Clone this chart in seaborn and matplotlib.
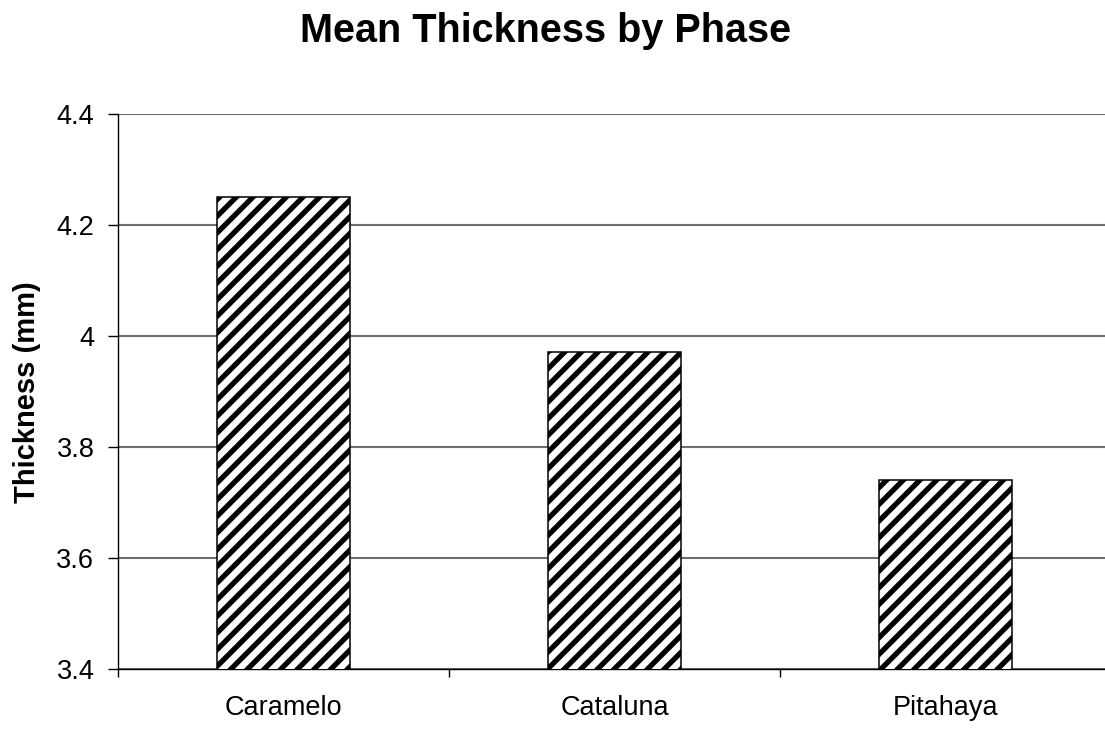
import matplotlib
matplotlib.use("Agg")
from matplotlib import pyplot as plt
from matplotlib.ticker import FixedLocator, FuncFormatter
import seaborn as sns

phases = ["Caramelo", "Cataluna", "Pitahaya"]
thickness = [4.25, 3.97, 3.74]
yticks = [3.4, 3.6, 3.8, 4.0, 4.2, 4.4]

sns.set_style("white")
plt.rcParams['font.family'] = ['Liberation Sans', 'DejaVu Sans']
plt.rcParams['text.color'] = 'black'
plt.rcParams['xtick.color'] = 'black'
plt.rcParams['ytick.color'] = 'black'
plt.rcParams['hatch.linewidth'] = 3.8
plt.rcParams['hatch.color'] = 'black'

fig = plt.figure(figsize=(11.05, 7.34), dpi=100)
ax = fig.add_axes([118 / 1105, 65 / 734, 993 / 1105, 555.3 / 734])

sns.barplot(x=phases, y=thickness, color="white", edgecolor="black",
            linewidth=1.1, width=0.4, hatch="//", ax=ax, zorder=3)

ax.set_ylim(3.4, 4.4)
ax.set_xlim(-0.5, 2.5)
ax.set_yticks(yticks)
ax.yaxis.set_major_formatter(FuncFormatter(lambda v, p: "%g" % round(v, 2)))
ax.yaxis.grid(True, color="#6e6e6e", linewidth=1.5, zorder=0)
ax.set_axisbelow(True)

for s in ["top", "right"]:
    ax.spines[s].set_visible(False)
for s in ["left", "bottom"]:
    ax.spines[s].set_color("black")
    ax.spines[s].set_linewidth(1.0)

ax.tick_params(axis="y", which="major", length=7, width=1, color="black",
               labelsize=19.5, pad=10, left=True, labelcolor="black")
ax.tick_params(axis="x", which="major", length=0, labelsize=19.5, pad=19,
               labelcolor="black")
ax.xaxis.set_minor_locator(FixedLocator([-0.5, 0.5, 1.5, 2.5]))
ax.tick_params(axis="x", which="minor", length=6, width=1, color="black",
               bottom=True)
ax.set_xlabel("")
ax.set_ylabel("")

fig.text(546 / 1105, 1 - 42 / 734, "Mean Thickness by Phase", ha="center",
         va="baseline", fontsize=28.5, fontweight="bold", color="black")
fig.text(27 / 1105, 1 - 392 / 734, "Thickness (mm)", rotation=90,
         ha="center", va="center", fontsize=21, fontweight="bold",
         color="black")

plt.savefig("out.png", dpi=100)
